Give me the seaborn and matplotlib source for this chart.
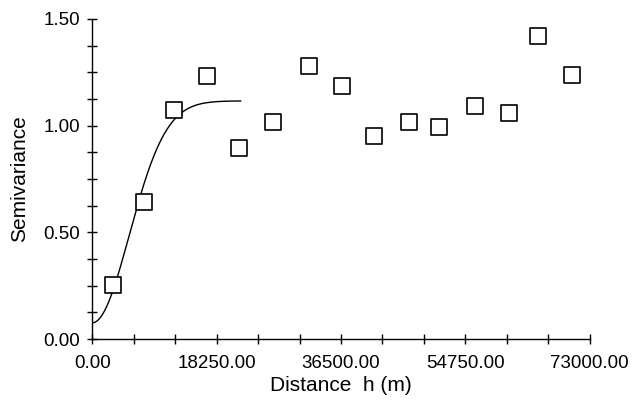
import numpy as np
import pandas as pd
import matplotlib
matplotlib.use('Agg')
import matplotlib.pyplot as plt
import seaborn as sns
from matplotlib.ticker import MultipleLocator, FormatStrFormatter

# experimental semivariogram (lag distance in m, semivariance)
lag_distance = [3080, 7630, 11990, 16790, 21570, 26480, 31850, 36600,
                41340, 46430, 50930, 56160, 61110, 65370, 70360]
semivariance = [0.255, 0.641, 1.074, 1.233, 0.894, 1.016, 1.280, 1.186,
                0.952, 1.017, 0.993, 1.092, 1.060, 1.421, 1.238]

# gaussian model fitted to it
nugget = 0.076
partial_sill = 1.04
range_param = 7650
model_max_h = 21800

x_ticks = [0, 18250, 36500, 54750, 73000]

sns.set_theme(style='white')
plt.rcParams['font.family'] = ['Liberation Sans', 'DejaVu Sans']

df = pd.DataFrame({'h': lag_distance, 'gamma': semivariance})
h_model = np.linspace(0, model_max_h, 300)
model_df = pd.DataFrame({
    'h': h_model,
    'gamma': nugget + partial_sill * (1 - np.exp(-(h_model / range_param) ** 2))
})

fig = plt.figure(figsize=(6.33, 4.03), dpi=100)
ax = fig.add_axes([0.1458, 0.1588, 0.9316 - 0.1458, 0.9529 - 0.1588])

sns.lineplot(data=model_df, x='h', y='gamma', color='black', linewidth=1.0, ax=ax)
sns.scatterplot(data=df, x='h', y='gamma', marker='s', s=120, facecolor='white',
                edgecolor='black', linewidth=1.2, ax=ax, zorder=3, clip_on=False)

ax.set_xlim(0, 73000)
ax.set_ylim(0, 1.5)
ax.set_xticks(x_ticks)
ax.xaxis.set_minor_locator(MultipleLocator(18250 / 3))
ax.xaxis.set_major_formatter(FormatStrFormatter('%.2f'))
ax.yaxis.set_major_locator(MultipleLocator(0.5))
ax.yaxis.set_minor_locator(MultipleLocator(0.125))
ax.yaxis.set_major_formatter(FormatStrFormatter('%.2f'))

for side in ['top', 'right']:
    ax.spines[side].set_visible(False)
for side in ['left', 'bottom']:
    ax.spines[side].set_color('black')
    ax.spines[side].set_linewidth(1.0)

ax.tick_params(which='both', direction='inout', length=7.5, width=1.0, color='black',
               labelsize=13.5, labelcolor='black')
ax.tick_params(axis='x', which='both', bottom=True, pad=8)
ax.tick_params(axis='y', which='both', left=True, pad=5)

ax.set_xlabel('Distance  h (m)', fontsize=15, color='black', labelpad=3)
ax.set_ylabel('Semivariance', fontsize=15, color='black', labelpad=10)

fig.savefig('out.png', dpi=100)
